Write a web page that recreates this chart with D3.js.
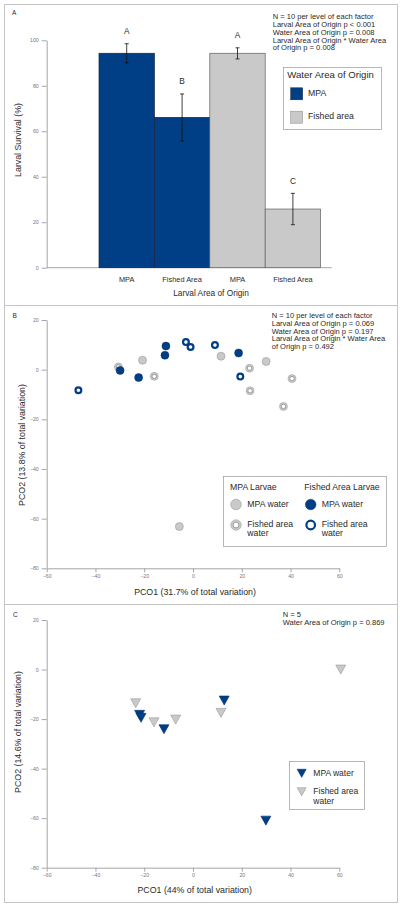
<!DOCTYPE html>
<html><head><meta charset="utf-8">
<script src="https://cdn.jsdelivr.net/npm/d3@7"></script>
<style>
body{margin:0;background:#fff;}
svg{display:block;font-family:"Liberation Sans",Arial,sans-serif;}
</style></head>
<body><svg id="c" width="400" height="907"></svg>
<script>
// ---------- DATA ----------
// Panel A
const barCats = ["MPA", "Fished Area", "MPA", "Fished Area"];
const barWater = ["MPA", "MPA", "Fished area", "Fished area"];
const barValues = [94.3, 66.1, 94.3, 25.8];
const barErrHigh = [98.5, 76.4, 96.7, 32.7];
const barErrLow = [90.1, 55.7, 91.8, 18.9];
const barLetters = ["A", "B", "A", "C"];
const yTicksA = [0, 20, 40, 60, 80, 100];
const statsA = ["N = 10 per level of each factor", "Larval Area of Origin p < 0.001", "Water Area of Origin p = 0.008", "Larval Area of Origin * Water Area", "of Origin p = 0.008"];

// Panel B (PCO)
const bMpaLarvMpaWaterX = [-20.7, 11.5, 30.0, -5.6];
const bMpaLarvMpaWaterY = [3.8, 5.4, 3.3, -63.2];
const bMpaLarvFishWaterX = [-30.6, -15.9, 23.2, 23.4, 40.6, 37.1];
const bMpaLarvFishWaterY = [1.1, -2.7, 0.6, -8.5, -3.6, -14.8];
const bFishLarvMpaWaterX = [-29.9, -22.3, -11.1, -11.5, 18.7];
const bFishLarvMpaWaterY = [-0.3, -3.2, 9.5, 5.8, 6.7];
const bFishLarvFishWaterX = [-47.0, -2.9, -1.0, 9.0, 19.4];
const bFishLarvFishWaterY = [-8.3, 11.1, 9.1, 9.9, -2.8];
const statsB = ["N = 10 per level of each factor", "Larval Area of Origin p = 0.069", "Water Area of Origin p = 0.197", "Larval Area of Origin * Water Area", "of Origin p = 0.492"];

// Panel C
const cMpaWaterX = [-21.9, -21.3, -11.9, 12.8, 29.9];
const cMpaWaterY = [-18.3, -19.5, -24.1, -12.5, -61.0];
const cFishWaterX = [-23.5, -16.0, -7.1, 11.5, 60.6];
const cFishWaterY = [-13.6, -21.3, -20.2, -17.5, 0.0];
const statsC = ["N = 5", "Water Area of Origin p = 0.869"];

const pcoXTicks = [-60, -40, -20, 0, 20, 40, 60];
const pcoYTicks = [-80, -60, -40, -20, 0, 20];

// ---------- STYLE ----------
const DARK = "#003e86", LIGHT = "#c9c9c9", AXIS = "#a6a6a6", TICKTXT = "#777", TXT = "#2a2a2a";
const STAT = 7.55, LEG = 8.7, AXT = 8.8;
const svg = d3.select("#c");

// panel frames
[[4, 4, 393, 301], [4, 305, 393, 299], [4, 604, 393, 298]].forEach(r => {
  svg.append("rect").attr("x", r[0] + 0.5).attr("y", r[1] + 0.5).attr("width", r[2]).attr("height", r[3])
    .attr("fill", "none").attr("stroke", "#c4c4c4").attr("stroke-width", 1);
});

function styleAxis(g) {
  g.select(".domain").attr("stroke", AXIS);
  g.selectAll(".tick line").attr("stroke", AXIS);
  g.selectAll(".tick text").attr("fill", TICKTXT).attr("font-size", 5.2).attr("font-family", "Liberation Sans, Arial");
}
function text(x, y, s, size, opts = {}) {
  const t = svg.append("text").attr("x", x).attr("y", y).attr("font-size", size)
    .attr("fill", opts.fill || TXT).attr("text-anchor", opts.anchor || "start")
    .attr("dominant-baseline", "middle").text(s);
  if (opts.rotate) t.attr("transform", `rotate(-90 ${x} ${y})`);
  return t;
}

// ---------- PANEL A ----------
const xA = d3.scaleBand().domain(d3.range(barCats.length)).range([99, 320.6]).padding(0);
const yA = d3.scaleLinear().domain([0, 100]).range([267.7, 40.3]);
svg.append("g").attr("transform", "translate(46.7,0)")
  .call(d3.axisLeft(yA).tickValues(yTicksA).tickSize(5).tickSizeOuter(0).tickPadding(3)).call(styleAxis);
svg.append("line").attr("x1", 46.7).attr("x2", 331.7).attr("y1", yA(0)).attr("y2", yA(0)).attr("stroke", AXIS);

barValues.forEach((v, i) => {
  const isDark = barWater[i] === "MPA";
  svg.append("rect").attr("x", xA(i)).attr("y", yA(v)).attr("width", xA.bandwidth()).attr("height", yA(0) - yA(v))
    .attr("fill", isDark ? DARK : LIGHT).attr("stroke", isDark ? "#16263f" : "#606060").attr("stroke-width", 0.7);
  const cx = xA(i) + xA.bandwidth() / 2;
  svg.append("line").attr("x1", cx).attr("x2", cx).attr("y1", yA(barErrHigh[i])).attr("y2", yA(barErrLow[i])).attr("stroke", "#111").attr("stroke-width", 0.8);
  [barErrHigh[i], barErrLow[i]].forEach(e => svg.append("line").attr("x1", cx - 2).attr("x2", cx + 2).attr("y1", yA(e)).attr("y2", yA(e)).attr("stroke", "#111").attr("stroke-width", 0.8));
  text(cx, yA(barErrHigh[i]) - 12, barLetters[i], 8.3, { anchor: "middle" });
  text(cx, 280, barCats[i], 7.4, { anchor: "middle" });
});
text(211, 294, "Larval Area of Origin", 8.3, { anchor: "middle" });
text(19, 140, "Larval Survival (%)", AXT, { anchor: "middle", rotate: true });
text(12, 13.5, "A", 6.5);
statsA.forEach((s, i) => text(272.7, 17.3 + i * 7.75, s, STAT));

// legend A
svg.append("rect").attr("x", 283.5).attr("y", 67.5).attr("width", 98).attr("height", 62).attr("fill", "#fff").attr("stroke", "#999").attr("stroke-width", 0.7);
text(287.3, 75.8, "Water Area of Origin", 9.6);
[["MPA", DARK, "#16263f", 93.8], ["Fished area", LIGHT, "#888", 117.2]].forEach(d => {
  svg.append("rect").attr("x", 290.7).attr("y", d[3] - 6).attr("width", 12).attr("height", 12).attr("fill", d[1]).attr("stroke", d[2]).attr("stroke-width", 0.5);
  text(308, d[3], d[0], LEG);
});

// ---------- PCO helpers ----------
function pcoAxes(y0, y1) {
  const x = d3.scaleLinear().domain([-60, 60]).range([46.7, 339.3]);
  const y = d3.scaleLinear().domain([-80, 20]).range([y1, y0]);
  svg.append("g").attr("transform", `translate(0,${y1})`)
    .call(d3.axisBottom(x).tickValues(pcoXTicks).tickSize(4).tickSizeOuter(0).tickPadding(2)).call(styleAxis);
  svg.append("g").attr("transform", "translate(46.7,0)")
    .call(d3.axisLeft(y).tickValues(pcoYTicks).tickSize(5).tickSizeOuter(0).tickPadding(3)).call(styleAxis);
  return { x, y };
}
function greyDisc(g, cx, cy, r) {
  g.append("circle").attr("cx", cx).attr("cy", cy).attr("r", r).attr("fill", LIGHT).attr("stroke", "#9a9a9a").attr("stroke-width", 0.6);
}
function greyRing(g, cx, cy, r) {
  g.append("circle").attr("cx", cx).attr("cy", cy).attr("r", r).attr("fill", LIGHT).attr("stroke", "#a8a8a8").attr("stroke-width", 0.6);
  g.append("circle").attr("cx", cx).attr("cy", cy).attr("r", r * 0.55).attr("fill", "#fff").attr("stroke", "#8a8a8a").attr("stroke-width", 0.8);
}
function darkDisc(g, cx, cy, r) {
  g.append("circle").attr("cx", cx).attr("cy", cy).attr("r", r).attr("fill", DARK).attr("stroke", "#00306a").attr("stroke-width", 0.5);
}
function darkRing(g, cx, cy, r) {
  g.append("circle").attr("cx", cx).attr("cy", cy).attr("r", r - 1.1).attr("fill", "#fff").attr("stroke", DARK).attr("stroke-width", 2.2);
}
function tri(g, cx, cy, w, fill, stroke) {
  const h = w * 0.9;
  g.append("path").attr("d", `M${cx - w / 2},${cy - h / 2}L${cx + w / 2},${cy - h / 2}L${cx},${cy + h / 2}Z`)
    .attr("fill", fill).attr("stroke", stroke).attr("stroke-width", 0.6).attr("stroke-linejoin", "round");
}

// ---------- PANEL B ----------
const B = pcoAxes(320, 568.3);
const gB = svg.append("g");
bMpaLarvMpaWaterX.forEach((v, i) => greyDisc(gB, B.x(v), B.y(bMpaLarvMpaWaterY[i]), 4));
bMpaLarvFishWaterX.forEach((v, i) => greyRing(gB, B.x(v), B.y(bMpaLarvFishWaterY[i]), 4));
bFishLarvMpaWaterX.forEach((v, i) => darkDisc(gB, B.x(v), B.y(bFishLarvMpaWaterY[i]), 4));
bFishLarvFishWaterX.forEach((v, i) => darkRing(gB, B.x(v), B.y(bFishLarvFishWaterY[i]), 4));
text(195, 592.3, "PCO1 (31.7% of total variation)", AXT, { anchor: "middle" });
text(22.5, 445, "PCO2 (13.8% of total variation)", AXT, { anchor: "middle", rotate: true });
text(12.5, 316, "B", 6.5);
statsB.forEach((s, i) => text(271.7, 316 + i * 7.75, s, STAT));

svg.append("rect").attr("x", 223.5).attr("y", 476.5).attr("width", 163).attr("height", 70).attr("fill", "#fff").attr("stroke", "#999").attr("stroke-width", 0.7);
text(230, 487.5, "MPA Larvae", LEG);
text(304.3, 487.5, "Fished Area Larvae", LEG);
greyDisc(svg, 236, 504.5, 5.3); text(247.3, 504.5, "MPA water", LEG);
greyRing(svg, 236, 525, 5.3); text(247.3, 525, "Fished area", LEG); text(247.3, 533.8, "water", LEG);
darkDisc(svg, 310.7, 504.5, 5.3); text(321.7, 504.5, "MPA water", LEG);
darkRing(svg, 310.7, 525, 5.4); text(321.7, 525, "Fished area", LEG); text(321.7, 533.8, "water", LEG);

// ---------- PANEL C ----------
const C = pcoAxes(620, 867.7);
const gC = svg.append("g");
cFishWaterX.forEach((v, i) => tri(gC, C.x(v), C.y(cFishWaterY[i]), 10, LIGHT, "#999"));
cMpaWaterX.forEach((v, i) => tri(gC, C.x(v), C.y(cMpaWaterY[i]), 10, DARK, "#00306a"));
text(194.7, 890.7, "PCO1 (44% of total variation)", AXT, { anchor: "middle" });
text(19, 732, "PCO2 (14.6% of total variation)", AXT, { anchor: "middle", rotate: true });
text(13, 615, "C", 6.5);
statsC.forEach((s, i) => text(282.7, 615 + i * 7.75, s, STAT));

svg.append("rect").attr("x", 289.5).attr("y", 761.5).attr("width", 75).attr("height", 48).attr("fill", "#fff").attr("stroke", "#999").attr("stroke-width", 0.7);
tri(svg, 301.7, 773.3, 9, DARK, "#00306a"); text(313.3, 773.5, "MPA water", 8.5);
tri(svg, 301.7, 791.7, 9, LIGHT, "#999"); text(313.3, 791.7, "Fished area", 8.5); text(313.3, 801.5, "water", 8.5);
</script></body></html>
